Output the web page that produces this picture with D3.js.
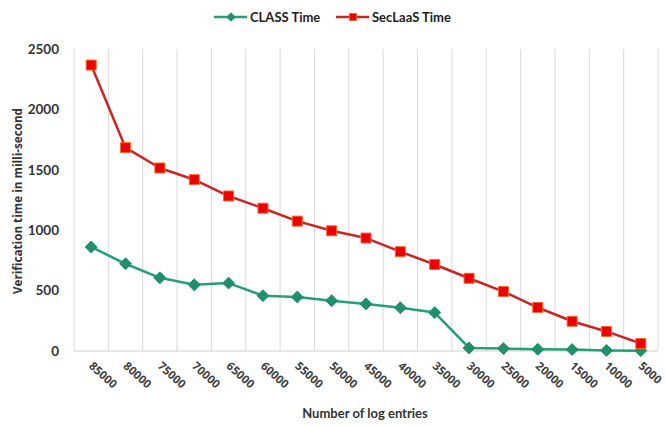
<!DOCTYPE html>
<html>
<head>
<meta charset="utf-8">
<script src="https://cdn.jsdelivr.net/npm/d3@7"></script>
<style>
  html, body { margin: 0; padding: 0; background: #fff; }
  svg { display: block; font-family: Lato, "Open Sans", sans-serif; }
</style>
</head>
<body>
<svg id="chart" width="665" height="426"></svg>
<script>
// Log sizes (number of entries) shown along the x axis
const entries = ["85000","80000","75000","70000","65000","60000","55000","50000","45000",
                 "40000","35000","30000","25000","20000","15000","10000","5000"];
// Verification time in milliseconds
const classTime   = [861, 722, 606, 548, 562, 458, 447, 416, 390, 358, 318, 25, 20, 14, 12, 5, 3];
const seclaasTime = [2367, 1683, 1515, 1418, 1283, 1182, 1075, 995, 935, 822, 716, 602, 492, 360, 246, 162, 62];
const yTicks = [0, 500, 1000, 1500, 2000, 2500];

const seriesList = [
  { name: "CLASS Time",   values: classTime,   line: "#23a074", fill: "#1f9068", stroke: "#1f9068", shape: d3.symbolDiamond2 },
  { name: "SecLaaS Time", values: seclaasTime, line: "#cc2424", fill: "#ee0000", stroke: "#f06a2a", shape: d3.symbolSquare }
];

const svg = d3.select("#chart");
const m = { left: 74, right: 658, top: 49, bottom: 351 };

const x = d3.scaleBand().domain(entries).range([m.left, m.right]);
const y = d3.scaleLinear().domain([0, 2500]).range([m.bottom, m.top]);

// Vertical gridlines at category boundaries
const bounds = entries.map(d => x(d)).concat([m.right]);
svg.append("g").selectAll("line").data(bounds).join("line")
  .attr("x1", d => d).attr("x2", d => d)
  .attr("y1", m.top).attr("y2", m.bottom)
  .attr("stroke", "#d9d9d9").attr("stroke-width", 1);

// Baseline
svg.append("line")
  .attr("x1", m.left).attr("x2", m.right)
  .attr("y1", m.bottom).attr("y2", m.bottom)
  .attr("stroke", "#d0d0d0").attr("stroke-width", 1);

// Y axis labels
const yAxis = d3.axisLeft(y).tickValues(yTicks).tickSize(0).tickPadding(0).tickFormat(d3.format("d"));
const gy = svg.append("g").attr("transform", `translate(${m.left - 15},0)`).call(yAxis);
gy.select(".domain").remove();
gy.selectAll("text")
  .attr("font-family", "Lato, sans-serif").attr("font-size", 13.5).attr("font-weight", "bold")
  .attr("fill", "#333");

// X axis labels, rotated
const xAxis = d3.axisBottom(x).tickSize(0).tickPadding(0);
const gx = svg.append("g").attr("transform", `translate(0,${m.bottom})`).call(xAxis);
gx.select(".domain").remove();
gx.selectAll("text")
  .attr("font-family", "'Open Sans', sans-serif").attr("font-size", 11.5).attr("font-weight", "bold")
  .attr("fill", "#404040")
  .attr("text-anchor", "start")
  .attr("dy", null).attr("y", 0)
  .attr("transform", "translate(-3,16) rotate(42)");

// Series lines and markers
const line = d3.line().x((d, i) => x(entries[i]) + x.bandwidth() / 2).y(d => y(d));
seriesList.forEach(s => {
  svg.append("path").datum(s.values)
    .attr("d", line).attr("fill", "none")
    .attr("stroke", s.line).attr("stroke-width", 2.5).attr("stroke-linejoin", "round");
  svg.append("g").selectAll("path").data(s.values).join("path")
    .attr("d", d3.symbol().type(s.shape).size(s.shape === d3.symbolSquare ? 100 : 90))
    .attr("transform", (d, i) => `translate(${x(entries[i]) + x.bandwidth() / 2},${y(d)})`)
    .attr("fill", s.fill).attr("stroke", s.stroke).attr("stroke-width", 1);
});

// Axis titles
svg.append("text")
  .attr("transform", `translate(22,201) rotate(-90)`)
  .attr("text-anchor", "middle")
  .attr("font-family", "'Open Sans', sans-serif").attr("font-size", 11.7).attr("font-weight", "bold")
  .attr("fill", "#333")
  .text("Verification time in  milli-second");

svg.append("text")
  .attr("x", 365).attr("y", 418)
  .attr("text-anchor", "middle")
  .attr("font-family", "Lato, sans-serif").attr("font-size", 13).attr("font-weight", "bold")
  .attr("fill", "#333")
  .text("Number of log entries");

// Legend
const legend = svg.append("g").attr("transform", "translate(0,17)");
const legendX = [250, 372];
seriesList.forEach((s, i) => {
  const g = legend.append("g").attr("transform", `translate(${legendX[i]},0)`);
  g.append("line").attr("x1", -36).attr("x2", -3).attr("y1", 0).attr("y2", 0)
    .attr("stroke", s.line).attr("stroke-width", 2.5);
  g.append("path")
    .attr("d", d3.symbol().type(s.shape).size(s.shape === d3.symbolSquare ? 50 : 45))
    .attr("transform", "translate(-19,0)")
    .attr("fill", s.fill).attr("stroke", s.stroke).attr("stroke-width", 1);
  g.append("text").attr("x", 0).attr("y", 4.5)
    .attr("font-family", "Lato, sans-serif").attr("font-size", 13).attr("font-weight", "bold")
    .attr("fill", "#222")
    .text(s.name);
});
</script>
</body>
</html>
